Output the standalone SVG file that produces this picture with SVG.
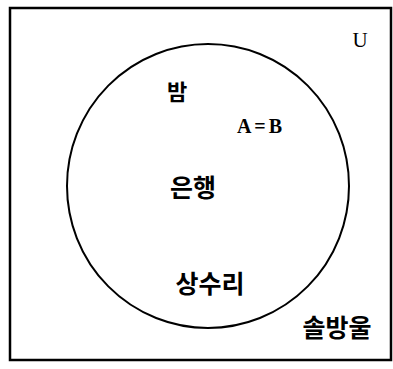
<svg xmlns="http://www.w3.org/2000/svg" width="393" height="369" viewBox="0 0 393 369">
<style>
.frame{fill:none;stroke:#000;stroke-width:2.5}
.set{fill:none;stroke:#000;stroke-width:2}
.ko{font-family:"Noto Sans CJK KR","Noto Sans",sans-serif;font-weight:bold;fill:#000}
.lat{font-family:"Liberation Serif","DejaVu Serif",serif;fill:#000}
</style>
<rect width="393" height="369" fill="#fff"/>
<g id="universe">
<rect class="frame" x="10" y="8" width="381" height="352"/>
<text class="lat" x="360" y="47" font-size="21" text-anchor="middle">U</text>
</g>
<g id="setA">
<ellipse class="set" cx="208" cy="186" rx="141" ry="142"/>
<text class="lat" x="261" y="133" font-size="20" font-weight="bold" letter-spacing="3" text-anchor="middle">A=B</text>
</g>
<g id="bam"><text class="ko" x="177" y="100" font-size="22" text-anchor="middle">밤</text></g>
<g id="eunhaeng"><text class="ko" x="193" y="197" font-size="25" text-anchor="middle">은행</text></g>
<g id="sangsuri"><text class="ko" x="210" y="293" font-size="25" text-anchor="middle">상수리</text></g>
<g id="solbangul"><text class="ko" x="337" y="337" font-size="25" text-anchor="middle">솔방울</text></g>
</svg>
